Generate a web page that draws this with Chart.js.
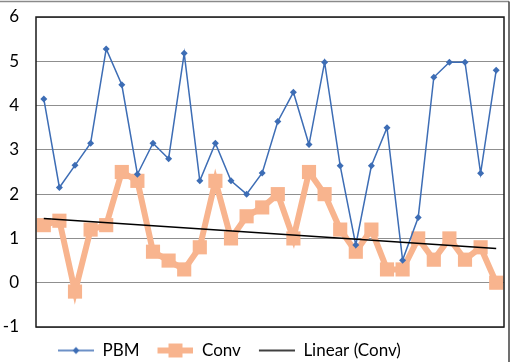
<!DOCTYPE html>
<html>
<head>
<meta charset="utf-8">
<script src="https://cdn.jsdelivr.net/npm/chart.js@4"></script>
<style>
    html, body { margin: 0; padding: 0; background: #fff; }
    #wrap { position: relative; width: 514px; height: 362px; }
</style>
</head>
<body>
<div id="wrap"><canvas id="chart"></canvas></div>
<script>
// data
const categories = ['1', '2', '3', '4', '5', '6', '7', '8', '9', '10',
    '11', '12', '13', '14', '15', '16', '17', '18', '19', '20',
    '21', '22', '23', '24', '25', '26', '27', '28', '29', '30'];
const pbmValues = [4.15, 2.15, 2.65, 3.15, 5.28, 4.47, 2.45, 3.15, 2.8, 5.18,
    2.3, 3.15, 2.3, 2.0, 2.48, 3.64, 4.3, 3.12, 4.98, 2.64,
    0.85, 2.64, 3.5, 0.51, 1.47, 4.64, 4.98, 4.98, 2.47, 4.8];
const convValues = [1.3, 1.4, -0.2, 1.2, 1.3, 2.5, 2.3, 0.7, 0.5, 0.3,
    0.8, 2.3, 1.0, 1.5, 1.7, 2.0, 1.0, 2.5, 2.0, 1.2,
    0.7, 1.2, 0.3, 0.3, 1.0, 0.52, 1.0, 0.52, 0.8, 0.0];
// linear trend of Conv, end points as read
const trendStart = 1.45;
const trendEnd = 0.77;
const yTicks = [-1, 0, 1, 2, 3, 4, 5, 6];

const blue = '#3D6DB5';
const orange = '#F8B48E';

const trendValues = categories.map(function (c, i) {
    if (i === 0) return trendStart;
    if (i === categories.length - 1) return trendEnd;
    return null;
});

// legend samples: line + marker drawn on small canvases
function makeSample(kind) {
    const c = document.createElement('canvas');
    c.width = 46;
    c.height = 20;
    const g = c.getContext('2d');
    const x0 = 10, x1 = 46, y = 10;
    g.beginPath();
    g.moveTo(x0, y);
    g.lineTo(x1, y);
    if (kind === 'pbm') {
        g.strokeStyle = blue;
        g.lineWidth = 1.5;
        g.stroke();
        g.fillStyle = blue;
        g.beginPath();
        g.moveTo(28, y - 3.5);
        g.lineTo(31.5, y);
        g.lineTo(28, y + 3.5);
        g.lineTo(24.5, y);
        g.closePath();
        g.fill();
    } else if (kind === 'conv') {
        g.strokeStyle = orange;
        g.lineWidth = 6;
        g.stroke();
        g.fillStyle = orange;
        g.fillRect(21, y - 7, 14, 14);
    } else {
        g.strokeStyle = '#000';
        g.lineWidth = 1.5;
        g.stroke();
    }
    return c;
}
const legendSamples = [makeSample('pbm'), makeSample('conv'), makeSample('trend')];

const framePlugin = {
    id: 'frame',
    afterLayout: function (chart) {
        // move legend under the plot like the original
        chart.legend.left += 40;
        chart.legend.right += 40;
        chart.legend.top += 7;
        chart.legend.bottom += 7;
    },
    beforeDraw: function (chart) {
        const ctx = chart.ctx;
        ctx.save();
        ctx.lineWidth = 1.5;
        ctx.strokeStyle = '#8a8a8a';
        ctx.beginPath();
        ctx.moveTo(0, 1.5);
        ctx.lineTo(509, 1.5);
        ctx.stroke();
        ctx.strokeStyle = '#404040';
        ctx.beginPath();
        ctx.moveTo(509, 1.5);
        ctx.lineTo(509, 362);
        ctx.stroke();
        ctx.restore();
    },
    afterDatasetsDraw: function (chart) {
        const a = chart.chartArea;
        const ctx = chart.ctx;
        ctx.save();
        ctx.strokeStyle = '#1a1a1a';
        ctx.lineWidth = 1.5;
        ctx.strokeRect(a.left, a.top, a.right - a.left, a.bottom - a.top);
        ctx.restore();
    }
};

new Chart(document.getElementById('chart'), {
    type: 'line',
    data: {
        labels: categories,
        datasets: [
            {
                label: 'PBM',
                data: pbmValues,
                borderColor: blue,
                backgroundColor: blue,
                borderWidth: 1.5,
                pointStyle: 'rectRot',
                pointRadius: 3.5,
                pointBorderWidth: 0,
                pointBackgroundColor: blue,
                tension: 0,
                order: 2
            },
            {
                label: 'Conv',
                data: convValues,
                borderColor: orange,
                backgroundColor: orange,
                borderWidth: 6,
                pointStyle: 'rect',
                pointRadius: 10,
                pointBorderWidth: 0,
                pointBackgroundColor: orange,
                tension: 0,
                order: 3
            },
            {
                label: 'Linear (Conv)',
                data: trendValues,
                borderColor: '#000',
                backgroundColor: '#000',
                borderWidth: 1.5,
                pointRadius: 0,
                spanGaps: true,
                order: 1
            }
        ]
    },
    options: {
        responsive: true,
        maintainAspectRatio: false,
        animation: false,
        layout: {
            padding: { left: 0, right: 8, top: 17, bottom: 0 }
        },
        plugins: {
            legend: {
                display: true,
                position: 'bottom',
                align: 'start',
                labels: {
                    usePointStyle: true,
                    pointStyleWidth: 46,
                    padding: 8,
                    color: '#000',
                    font: { family: 'Lato', size: 17 },
                    sort: function (a, b) { return a.datasetIndex - b.datasetIndex; },
                    generateLabels: function (chart) {
                        const items = Chart.defaults.plugins.legend.labels.generateLabels(chart);
                        items.forEach(function (item) {
                            item.pointStyle = legendSamples[item.datasetIndex];
                            item.rotation = 0;
                        });
                        return items;
                    }
                }
            },
            tooltip: { enabled: false }
        },
        scales: {
            x: {
                display: false,
                offset: true
            },
            y: {
                min: -1,
                max: 6,
                afterFit: function (scale) {
                    scale.width = 36;
                    scale.paddingTop = 0;
                    scale.paddingBottom = 0;
                },
                afterBuildTicks: function (scale) {
                    scale.ticks = yTicks.map(function (v) { return { value: v }; });
                },
                border: { display: false },
                grid: {
                    color: '#8f8f8f',
                    lineWidth: 1,
                    drawTicks: false
                },
                ticks: {
                    padding: 17,
                    color: '#000',
                    font: { family: 'Lato', size: 17 }
                }
            }
        }
    },
    plugins: [framePlugin]
});
</script>
</body>
</html>
